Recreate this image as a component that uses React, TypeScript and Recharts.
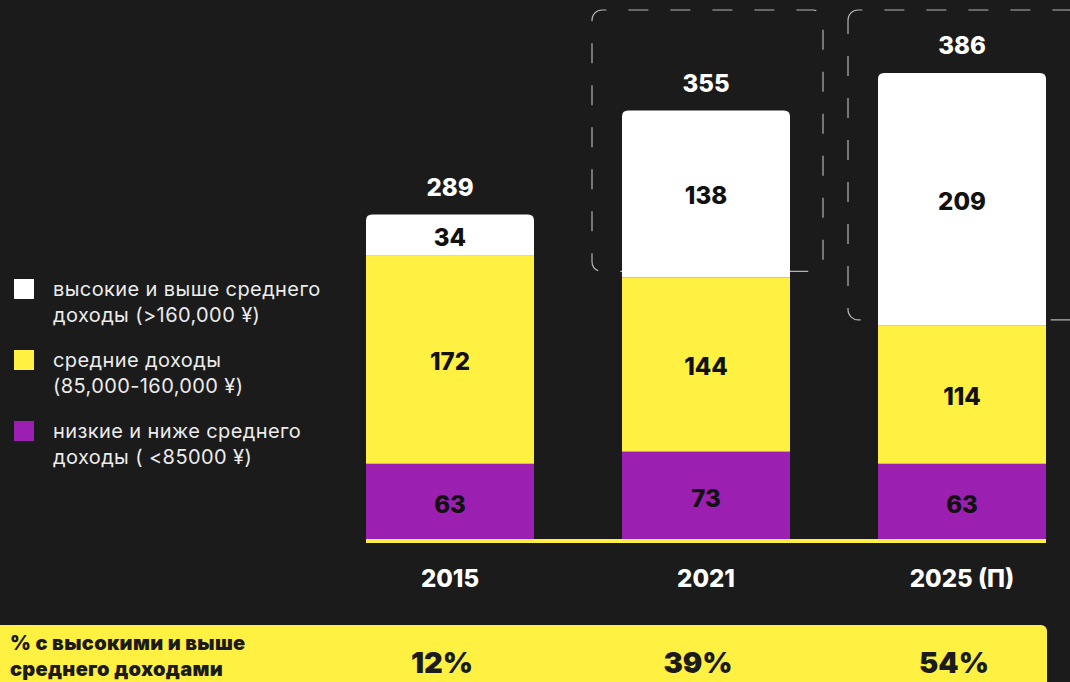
import { BarChart, Bar, XAxis, YAxis } from "recharts";

const years = ["2015", "2021", "2025 (П)"];
const lowIncome = [63, 73, 63];
const midIncome = [172, 144, 114];
const highIncome = [34, 138, 209];
const totals = [289, 355, 386];
const highShare = ["12%", "39%", "54%"];

const data = years.map((year, i) => ({
  year,
  low: lowIncome[i],
  mid: midIncome[i],
  high: highIncome[i],
}));

const BG = "#1b1b1b";
const YELLOW = "#fff042";
const PURPLE = "#9b1fb1";
const WHITE = "#ffffff";
const FONT = "Inter, 'Noto Sans', sans-serif";

const CHART_W = 1100;
const CHART_H = 682;
const MARGIN = { top: 56, right: 10, left: 322, bottom: 112 };
const BAR_W = 168;
const PLOT_W = CHART_W - MARGIN.left - MARGIN.right;
const GAP_HALF = (PLOT_W / years.length - BAR_W) / 2;
const BOX_TOP = 10;

const legend = [
  { color: WHITE, lines: ["высокие и выше среднего", "доходы (>160,000 ¥)"], top: 276 },
  { color: YELLOW, lines: ["средние доходы", "(85,000-160,000 ¥)"], top: 347 },
  { color: PURPLE, lines: ["низкие и ниже среднего", "доходы ( <85000 ¥)"], top: 418 },
];

function ValueText({ x, y, value, fill = "#111" }: any) {
  return (
    <text
      x={x}
      y={y}
      textAnchor="middle"
      dominantBaseline="central"
      fill={fill}
      fontFamily={FONT}
      fontSize={24}
      fontWeight={800}
    >
      {value}
    </text>
  );
}

// dashed rounded frame, path starts at the top-left corner so the arc gets a dash
function dashedFrame(x: number, top: number, w: number, bottom: number, r: number) {
  const right = x + w;
  return [
    `M${x},${top + r}`,
    `A${r},${r} 0 0 1 ${x + r},${top}`,
    `H${right - r}`,
    `A${r},${r} 0 0 1 ${right},${top + r}`,
    `V${bottom - r}`,
    `A${r},${r} 0 0 1 ${right - r},${bottom}`,
    `H${x + r}`,
    `A${r},${r} 0 0 1 ${x},${bottom - r}`,
    "Z",
  ].join(" ");
}

function LowShape(props: any) {
  const { x, y, width, height, index, payload } = props;
  const last = years.length - 1;
  const lineX = x - (index > 0 ? GAP_HALF + 1 : 0);
  const lineW = width + (index > 0 ? GAP_HALF + 1 : 0) + (index < last ? GAP_HALF + 1 : 0);
  return (
    <g>
      <rect x={x} y={y} width={width} height={height} fill={PURPLE} />
      <rect x={lineX} y={y + height - 1} width={lineW} height={4} fill={YELLOW} />
      <ValueText x={x + width / 2} y={y + height / 2 + 3} value={payload.low} />
    </g>
  );
}

function MidShape(props: any) {
  const { x, y, width, height, payload } = props;
  return (
    <g>
      <rect x={x} y={y} width={width} height={height} fill={YELLOW} />
      <ValueText x={x + width / 2} y={y + height / 2 + 2} value={payload.mid} />
    </g>
  );
}

function HighShape(props: any) {
  const { x, y, width, height, index, payload } = props;
  const r = 6;
  const path = `M${x},${y + height} L${x},${y + r} Q${x},${y} ${x + r},${y} L${x + width - r},${y} Q${x + width},${y} ${x + width},${y + r} L${x + width},${y + height} Z`;
  return (
    <g>
      {index > 0 && (
        <path
          d={dashedFrame(x - 30, BOX_TOP, width + 63, y + height - 6, 10)}
          fill="none"
          stroke="#b4b4b4"
          strokeWidth={1.2}
          strokeDasharray="20 22"
        />
      )}
      <path d={path} fill={WHITE} />
      <ValueText x={x + width / 2} y={y + height / 2 + 2} value={payload.high} />
      <ValueText x={x + width / 2} y={y - 27} value={totals[index]} fill={WHITE} />
    </g>
  );
}

function YearTick(props: any) {
  const { x, y, payload } = props;
  const i = years.indexOf(payload.value);
  return (
    <g>
      <text
        x={x}
        y={y + 30}
        textAnchor="middle"
        dominantBaseline="central"
        fill={WHITE}
        fontFamily={FONT}
        fontSize={24}
        fontWeight={800}
      >
        {payload.value}
      </text>
      <text
        x={x - 8}
        y={y + 114}
        textAnchor="middle"
        dominantBaseline="central"
        fill={BG}
        fontFamily={FONT}
        fontSize={29}
        fontWeight={900}
      >
        {highShare[i]}
      </text>
    </g>
  );
}

export default function App() {
  return (
    <div
      style={{
        position: "fixed",
        left: 0,
        top: 0,
        width: 1070,
        height: 682,
        background: BG,
        overflow: "hidden",
        fontFamily: FONT,
      }}
    >
      {/* share band at the bottom */}
      <div
        style={{
          position: "absolute",
          left: 0,
          top: 625,
          width: 1047,
          height: 70,
          background: YELLOW,
          borderTopRightRadius: 6,
        }}
      />
      <div
        style={{
          position: "absolute",
          left: 10,
          top: 630,
          fontSize: 20,
          fontWeight: 900,
          lineHeight: "26px",
          letterSpacing: 0.3,
          color: BG,
        }}
      >
        % с высокими и выше
        <br />
        среднего доходами
      </div>

      {legend.map((item) => (
        <div key={item.lines[0]}>
          <div
            style={{
              position: "absolute",
              left: 14,
              top: item.top + 3,
              width: 20,
              height: 20,
              background: item.color,
            }}
          />
          <div
            style={{
              position: "absolute",
              left: 53,
              top: item.top,
              fontSize: 20,
              lineHeight: "26px",
              letterSpacing: 0.4,
              color: "#ececec",
              whiteSpace: "nowrap",
            }}
          >
            {item.lines[0]}
            <br />
            {item.lines[1]}
          </div>
        </div>
      ))}

      <div style={{ position: "absolute", left: 0, top: 0 }}>
        <BarChart width={CHART_W} height={CHART_H} data={data} margin={MARGIN} barSize={BAR_W}>
          <XAxis
            dataKey="year"
            axisLine={false}
            tickLine={false}
            interval={0}
            height={30}
            tick={(p: any) => <YearTick {...p} />}
          />
          <YAxis hide domain={[0, 400]} />
          <Bar dataKey="low" stackId="a" shape={(p: any) => <LowShape {...p} />} isAnimationActive={false} />
          <Bar dataKey="mid" stackId="a" shape={(p: any) => <MidShape {...p} />} isAnimationActive={false} />
          <Bar dataKey="high" stackId="a" shape={(p: any) => <HighShape {...p} />} isAnimationActive={false} />
        </BarChart>
      </div>
    </div>
  );
}
